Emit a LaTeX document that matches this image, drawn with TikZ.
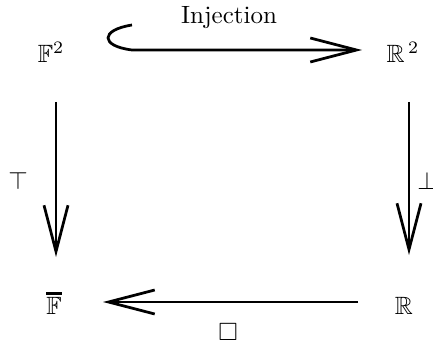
\documentclass[tikz,border=0pt]{standalone}
\usepackage{amssymb}
\usetikzlibrary{arrows.meta}
\begin{document}
\begin{tikzpicture}[x=0.4pt,y=-0.4pt,
  obj/.style={inner sep=0pt},
  lbl/.style={inner sep=0pt},
  arr/.style={line width=1.1pt,-{Straight Barb[length=18.5pt,width=9.6pt]}}]
\useasboundingbox (0,0) rectangle (433,346);
\node[obj] (F2) at (51,52) {$\mathbb{F}^2$};
\node[obj] (R2) at (403,52) {$\mathbb{R}^{\,2}$};
\node[obj] (Fb) at (54,303) {\vbox{\hrule height 1.1pt\kern 1pt\hbox{$\mathbb{F}$}}};
\node[obj] (R) at (404,306) {$\mathbb{R}$};
\node[lbl] (inj) at (229,18) {Injection};
\node[lbl] (top) at (18,181) {$\top$};
\node[lbl] (bot) at (427,181) {$\bot$};
\node[lbl] (sq) at (228,332) {$\square$};
\draw[arr] ([shift={(81,-27)}]F2.center) .. controls (100,30) and (100,46) .. (132,50) -- ([shift={(-41,-2)}]R2.center);
\draw[arr] ([shift={(5,50)}]F2.center) -- ([shift={(2,-46)}]Fb.center);
\draw[arr] ([shift={(6,50)}]R2.center) -- ([shift={(5,-51)}]R.center);
\draw[arr] ([shift={(-46,-4)}]R.center) -- ([shift={(49,-1)}]Fb.center);
\end{tikzpicture}
\end{document}
